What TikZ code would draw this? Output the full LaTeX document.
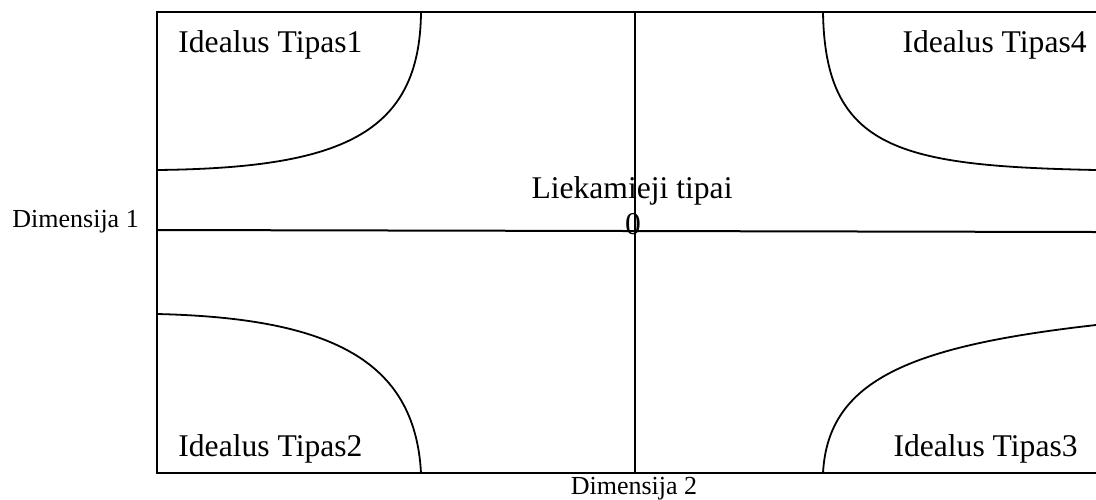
\documentclass[tikz,border=0pt]{standalone}
\usepackage{fontspec}
\setmainfont{Liberation Serif}
\usepackage{tikz}
\usetikzlibrary{positioning, calc}
\tikzset{label_t/.style={inner sep=0pt, font=\fontsize{15.8}{18}\selectfont},
dim_t/.style={inner sep=0pt, font=\fontsize{13}{15}\selectfont},
frame_t/.style={line width=1pt},
axis_t/.style={line width=1pt},
curve_t/.style={line width=0.9pt}}

\begin{document}
\begin{tikzpicture}[x=0.5pt, y=-0.5pt]
  \useasboundingbox (0,0) rectangle (1096,499);
  % frame (right side falls on the edge)
  \coordinate (tl) at (157,12);
  \coordinate (tr) at (1096,12);
  \coordinate (bl) at (157,473);
  \coordinate (br) at (1096,473);
  \draw[frame_t] (tr) -- (tl) -- (bl) -- (br);
  % axes
  \coordinate (xa) at (157,230);
  \coordinate (xb) at (1096,232);
  \coordinate (ya) at (635,12);
  \coordinate (yb) at (635,473);
  \draw[axis_t] (xa) -- (xb);
  \draw[axis_t] (ya) -- (yb);
  % corner curves
  \draw[curve_t] (157,170) .. controls (340,168) and (420,135) .. (421,12);
  \draw[curve_t] (823,12) .. controls (825,150) and (900,166) .. (1096,170);
  \draw[curve_t] (157,314) .. controls (330,318) and (415,360) .. (421,473);
  \draw[curve_t] (823,473) .. controls (828,380) and (910,346) .. (1096,325);
  % labels
  \node[label_t, anchor=base west] (t1) at (178,52) {Idealus Tipas1};
  \node[label_t, anchor=base east] (t4) at (1087,52) {Idealus Tipas4};
  \node[label_t, anchor=base west] (t2) at (178,456) {Idealus Tipas2};
  \node[label_t, anchor=base east] (t3) at (1078,456) {Idealus Tipas3};
  \node[label_t, anchor=base] (rest) at (632,198) {Liekamieji tipai};
  \node[label_t, anchor=base] (zero) at (633,234) {0};
  \node[dim_t, anchor=base west] (d1) at (12,227) {Dimensija 1};
  \node[dim_t, anchor=base] (d2) at (634,494) {Dimensija 2};
\end{tikzpicture}
\end{document}
